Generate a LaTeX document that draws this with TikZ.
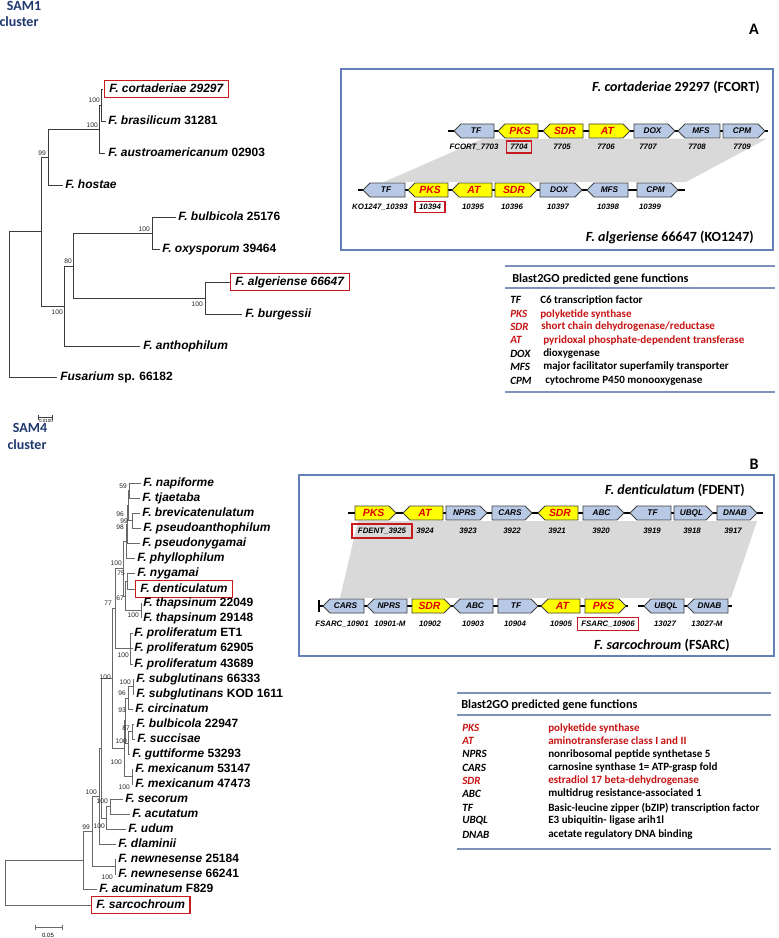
\documentclass[tikz,border=0pt]{standalone}
\usepackage{fontspec}
\setmainfont{Carlito}
\newfontfamily\arialf{Liberation Sans}
\usetikzlibrary{fit}
\definecolor{navy}{RGB}{31,56,110}
\definecolor{panelblue}{RGB}{100,128,185}
\definecolor{legline}{RGB}{125,145,185}
\definecolor{geneblue}{RGB}{184,201,230}
\definecolor{geneyel}{RGB}{255,255,0}
\definecolor{genered}{RGB}{225,0,0}
\definecolor{legred}{RGB}{200,20,20}
\definecolor{boxred}{RGB}{200,25,30}
\definecolor{shadegray}{RGB}{217,217,217}
\definecolor{treeA}{RGB}{60,60,60}
\definecolor{treeB}{RGB}{105,105,105}
\newcommand{\gR}[6]{%
 \draw[gene,fill=#4] (#1,#3-7) -- (#2-7,#3-7) -- (#2,#3) -- (#2-7,#3+7) -- (#1,#3+7) -- cycle;
 \node[#6] at ({(#1+#2)/2-2},#3) {#5};}
\newcommand{\gL}[6]{%
 \draw[gene,fill=#4] (#2,#3-7) -- (#1+7,#3-7) -- (#1,#3) -- (#1+7,#3+7) -- (#2,#3+7) -- cycle;
 \node[#6] at ({(#1+#2)/2+2},#3) {#5};}
\begin{document}
\begin{tikzpicture}[x=0.75pt,y=-0.75pt,
 gene/.style={draw=black!75, line width=0.6pt, line join=miter},
 bb/.style={draw=black, line width=1.4pt},
 gl/.style={font=\arialf\bfseries\itshape\fontsize{6.2}{7}\selectfont, inner sep=0},
 yl/.style={font=\arialf\bfseries\itshape\fontsize{7.8}{9}\selectfont, text=genered, inner sep=0},
 num/.style={font=\arialf\bfseries\itshape\fontsize{5.9}{7}\selectfont, inner sep=0, text height=4.4pt, text depth=0.3pt},
 numbox/.style={num, draw=boxred, line width=1pt, inner xsep=3pt, inner ysep=2.2pt},
 tl/.style={font=\arialf\bfseries\fontsize{9}{10}\selectfont, anchor=west, inner sep=0, text height=6.6pt, text depth=1.9pt},
 redbox/.style={draw=boxred, line width=1.1pt, inner xsep=3.5pt, inner ysep=2pt},
 bs/.style={font=\arialf\fontsize{5}{5}\selectfont, anchor=east, inner sep=0, text=black!85},
 brA/.style={draw=treeA, line width=0.65pt},
 brB/.style={draw=treeB, line width=0.7pt},
 ttl/.style={font=\bfseries\fontsize{10.5}{12}\selectfont, anchor=east, inner sep=0},
 leghead/.style={font=\bfseries\fontsize{9.2}{11}\selectfont, anchor=west, inner sep=0},
 lab/.style={font=\bfseries\itshape\fontsize{8.3}{10}\selectfont, anchor=west, inner sep=0},
 ldesc/.style={font=\bfseries\fontsize{8.3}{10}\selectfont, anchor=west, inner sep=0},
 lline/.style={draw=legline, line width=1.1pt},
 panel/.style={draw=panelblue, line width=0.9pt},
 sam/.style={font=\bfseries\fontsize{10.5}{12}\selectfont, text=navy, inner sep=0},
 letter/.style={font=\bfseries\fontsize{12}{14}\selectfont, inner sep=0}]
\fill[white] (0,0) rectangle (778,938);
\useasboundingbox (0,0) rectangle (778,938);

% ---------- headings
\node[sam] (samA) at (24,6) {SAM1};
\node[sam] (clA) at (19,22) {cluster};
\node[sam] (samB) at (30,428) {SAM4};
\node[sam] (clB) at (27,445) {cluster};
\node[letter] (letA) at (754,29) {A};
\node[letter] (letB) at (754,464) {B};

% ---------- tree A
\foreach \n/\x/\y in {cort/103/89, bras/106/121, aust/105/153, host/63/185, bulb/176/217,
  oxy/160/249, alg/231/282, burg/242/314, anth/140/346, fus/57/377,
  n1/101/105, n2/99/129, n3/48/157, n4/152/233, n5/205/298, n6/73/266, n7/64/306,
  n8/41/231, rA/9/304}
  \coordinate (\n) at (\x,\y);
\foreach \p/\c in {n1/cort, n1/bras, n2/n1, n2/aust, n3/n2, n3/host, n4/bulb, n4/oxy,
  n5/alg, n5/burg, n6/n4, n6/n5, n7/n6, n7/anth, n8/n3, n8/n7, rA/n8, rA/fus}
  \draw[brA] (\p) |- (\c);
\node[tl] (Lcort) at (109,89) {\textit{F. cortaderiae 29297}};
\node[redbox, fit=(Lcort)] (Bcort) {};
\node[tl] (Lbras) at (108,121) {\textit{F. brasilicum} 31281};
\node[tl] (Laust) at (108,153) {\textit{F. austroamericanum} 02903};
\node[tl] (Lhost) at (65,185) {\textit{F. hostae}};
\node[tl] (Lbulb) at (178,217) {\textit{F. bulbicola} 25176};
\node[tl] (Loxy) at (162,249) {\textit{F. oxysporum} 39464};
\node[tl] (Lalg) at (235,282) {\textit{F. algeriense 66647}};
\node[redbox, fit=(Lalg)] (Balg) {};
\node[tl] (Lburg) at (245,314) {\textit{F. burgessii}};
\node[tl] (Lanth) at (143,346) {\textit{F. anthophilum}};
\node[tl] (Lfus) at (60,377) {\textit{Fusarium} sp. 66182};
\foreach \t/\x/\y in {100/100/100, 100/98/125, 99/46/153, 100/150/229, 100/203/304,
  80/72/261, 100/63/312}
  \node[bs] at (\x,\y) {\t};
% scale bar A
\draw[brA] (38,414.5) -- (38,419.5) (38,417) -- (52,417) (52,414.5) -- (52,419.5);
\node[font=\arialf\fontsize{3.4}{4}\selectfont, inner sep=0] (scA) at (46,421) {0.0100};

% ---------- panel A gene clusters
\draw[panel] (341,69) rectangle (773,250);
\node[ttl] (tA1) at (760,87) {\textit{F. cortaderiae} 29297 (FCORT)};
\node[ttl] (tA2) at (754,237) {\textit{F. algeriense} 66647 (KO1247)};
\fill[shadegray] (482,139) -- (766,139) -- (686,182) -- (384,182) -- cycle;
\draw[bb] (448,131) -- (768,131);
\gL{454}{494}{131}{geneblue}{TF}{gl}
\gL{498}{538}{131}{geneyel}{PKS}{yl}
\gL{543}{583}{131}{geneyel}{SDR}{yl}
\gR{589}{630}{131}{geneyel}{AT}{yl}
\gR{634}{675}{131}{geneblue}{DOX}{gl}
\gL{678}{720}{131}{geneblue}{MFS}{gl}
\gR{723}{765}{131}{geneblue}{CPM}{gl}
\node[num] at (474,147) {FCORT\_7703};
\node[numbox] at (519,147) {7704};
\node[num] at (562,147) {7705};
\node[num] at (606,147) {7706};
\node[num] at (648,147) {7707};
\node[num] at (697,147) {7708};
\node[num] at (742,147) {7709};
\draw[bb] (358,190) -- (685,190);
\gL{363}{405}{190}{geneblue}{TF}{gl}
\gL{408}{448}{190}{geneyel}{PKS}{yl}
\gL{452}{492}{190}{geneyel}{AT}{yl}
\gR{495}{537}{190}{geneyel}{SDR}{yl}
\gR{540}{582}{190}{geneblue}{DOX}{gl}
\gL{587}{628}{190}{geneblue}{MFS}{gl}
\gR{637}{678}{190}{geneblue}{CPM}{gl}
\node[num] at (380,207) {KO1247\_10393};
\node[numbox, inner ysep=1.6pt] at (430,207) {10394};
\node[num] at (473,207) {10395};
\node[num] at (512,207) {10396};
\node[num] at (558,207) {10397};
\node[num] at (608,207) {10398};
\node[num] at (650,207) {10399};

% ---------- legend A
\draw[lline] (505,266) -- (775,266);
\draw[lline] (505,288) -- (775,288);
\draw[lline] (505,392) -- (775,392);
\node[leghead] at (512,279) {Blast2GO predicted gene functions};
\node[lab] at (510,300) {TF};   \node[ldesc] at (540,300) {C6 transcription factor};
\node[lab, text=legred] at (510,314) {PKS}; \node[ldesc, text=legred] at (540,314) {polyketide synthase};
\node[lab, text=legred] at (510,327) {SDR}; \node[ldesc, text=legred] at (541,327) {short chain dehydrogenase/reductase};
\node[lab, text=legred] at (510,340) {AT}; \node[ldesc, text=legred] at (543,340) {pyridoxal phosphate-dependent transferase};
\node[lab] at (510,354) {DOX}; \node[ldesc] at (543,354) {dioxygenase};
\node[lab] at (510,367) {MFS}; \node[ldesc] at (543,367) {major facilitator superfamily transporter};
\node[lab] at (510,381) {CPM}; \node[ldesc] at (545,381) {cytochrome P450 monooxygenase};

% ---------- tree B
\foreach \n/\x/\y in {t1/141/483, t2/140/498, t3/140/513, t4/141/528, t5/140/543, t6/135/558,
  t7/135/573, t8/136/589, t9/141/603, t10/141/618, t11/132.5/633, t12/132.5/648, t13/132.5/664,
  t14/134/679, t15/134/694, t16/133/709, t17/134/724, t18/135/739, t19/130/754, t20/133/769,
  t21/133/784, t22/123/799, t23/130/814, t24/126/829, t25/116/844, t26/116/859, t27/116/874,
  t28/97/889, t29/92/905,
  a1/129/490.5, a2/132/520.5, a3/128/505.5, a4/127/524, a5/126/541, a6/127/581, a7/141/610.5,
  a8/125/596, a9/123/568.5, a10/130/648.5, c0/115/608.5, b1/133/686.5, b4/128/698, b2/132/731.5,
  b3/128/743, b5/125/720, b6/132/776.5, b7/124/748, c1/112/678, d1/110/806.5, d2/106/818,
  Ne/101/748, Nc/99/796, Nnew/115/866.5, Nb/92/831, Na/83/860, rB/5/882.5}
  \coordinate (\n) at (\x,\y);
\foreach \p/\c in {a1/t1, a1/t2, a2/t3, a2/t4, a3/a1, a3/a2, a4/a3, a4/t5, a5/a4, a5/t6,
  a6/t7, a6/t8, a7/t9, a7/t10, a8/a6, a8/a7, a9/a5, a9/a8, a10/t11, a10/t12, a10/t13,
  c0/a9, c0/a10, b1/t14, b1/t15, b4/b1, b4/t16, b2/t17, b2/t18, b3/b2, b3/t19, b5/b4, b5/b3,
  b6/t20, b6/t21, b7/b5, b7/b6, c1/c0, c1/b7, d1/t22, d1/t23, d2/d1, d2/t24, Ne/c1, Ne/d2,
  Nc/Ne, Nc/t25, Nnew/t26, Nnew/t27, Nb/Nc, Nb/Nnew, Na/Nb, Na/t28, rB/Na, rB/t29}
  \draw[brB] (\p) |- (\c);
\node[tl] at (143,483) {\textit{F. napiforme}};
\node[tl] at (142,498) {\textit{F. tjaetaba}};
\node[tl] at (142,513) {\textit{F. brevicatenulatum}};
\node[tl] at (143,528) {\textit{F. pseudoanthophilum}};
\node[tl] at (142,543) {\textit{F. pseudonygamai}};
\node[tl] at (137,558) {\textit{F. phyllophilum}};
\node[tl] at (137,573) {\textit{F. nygamai}};
\node[tl] (Ldent) at (140,589) {\textit{F. denticulatum}};
\node[redbox, fit=(Ldent)] (Bdent) {};
\node[tl] at (143,603) {\textit{F. thapsinum} 22049};
\node[tl] at (143,618) {\textit{F. thapsinum} 29148};
\node[tl] at (134,633) {\textit{F. proliferatum} ET1};
\node[tl] at (134,648) {\textit{F. proliferatum} 62905};
\node[tl] at (134,664) {\textit{F. proliferatum} 43689};
\node[tl] at (136,679) {\textit{F. subglutinans} 66333};
\node[tl] at (136,694) {\textit{F. subglutinans} KOD 1611};
\node[tl] at (135,709) {\textit{F. circinatum}};
\node[tl] at (136,724) {\textit{F. bulbicola} 22947};
\node[tl] at (137,739) {\textit{F. succisae}};
\node[tl] at (132,754) {\textit{F. guttiforme} 53293};
\node[tl] at (135,769) {\textit{F. mexicanum} 53147};
\node[tl] at (135,784) {\textit{F. mexicanum} 47473};
\node[tl] at (125,799) {\textit{F. secorum}};
\node[tl] at (132,814) {\textit{F. acutatum}};
\node[tl] at (128,829) {\textit{F. udum}};
\node[tl] at (118,844) {\textit{F. dlaminii}};
\node[tl] at (118,859) {\textit{F. newnesense} 25184};
\node[tl] at (118,874) {\textit{F. newnesense} 66241};
\node[tl] at (99,889) {\textit{F. acuminatum} F829};
\node[tl] (Lsarc) at (96,905) {\textit{F. sarcochroum}};
\node[redbox, fit=(Lsarc)] (Bsarc) {};
\foreach \t/\x/\y in {59/127/486, 96/124/514, 99/128/521, 98/124/527, 100/122/563, 75/125/573,
  67/124/598, 77/112/603, 100/139/615, 100/129/655, 100/131/682, 96/126/693, 93/126/710,
  87/130/728, 100/127/741, 100/122/762, 100/130/787, 100/111/677, 100/108/801, 100/105/826,
  100/97/792, 99/90/827, 100/113/877}
  \node[bs] at (\x,\y) {\t};
% scale bar B
\draw[brB] (35,924.5) -- (35,929.5) (35,927) -- (62,927) (62,924.5) -- (62,929.5);
\node[font=\arialf\fontsize{4.5}{5}\selectfont, inner sep=0] (scB) at (48,935) {0.05};

% ---------- panel B gene clusters
\draw[panel] (299,475) rectangle (774,656);
\node[ttl] (tB1) at (745,490) {\textit{F. denticulatum} (FDENT)};
\node[ttl] (tB2) at (730,645) {\textit{F. sarcochroum} (FSARC)};
\fill[shadegray] (358,521) -- (757,521) -- (731,598) -- (340,598) -- cycle;
\draw[bb] (348,513) -- (763,513);
\gR{355}{396}{513}{geneyel}{PKS}{yl}
\gL{403}{443}{513}{geneyel}{AT}{yl}
\gR{446}{487}{513}{geneblue}{NPRS}{gl}
\gR{492}{532}{513}{geneblue}{CARS}{gl}
\gL{538}{578}{513}{geneyel}{SDR}{yl}
\gR{583}{624}{513}{geneblue}{ABC}{gl}
\gL{630}{671}{513}{geneblue}{TF}{gl}
\gR{674}{713}{513}{geneblue}{UBQL}{gl}
\gR{717}{757}{513}{geneblue}{DNAB}{gl}
\node[numbox, inner xsep=4.5pt, inner ysep=3pt] at (382,531) {FDENT\_3925};
\node[num] at (425,531) {3924};
\node[num] at (468,531) {3923};
\node[num] at (512,531) {3922};
\node[num] at (557,531) {3921};
\node[num] at (601,531) {3920};
\node[num] at (652,531) {3919};
\node[num] at (692,531) {3918};
\node[num] at (733,531) {3917};
\draw[bb] (318,606) -- (628,606);
\draw[bb] (638,606) -- (732,606);
\draw[draw=black, line width=2.2pt] (319,600) -- (319,612);
\gL{323}{364}{606}{geneblue}{CARS}{gl}
\gL{367}{407}{606}{geneblue}{NPRS}{gl}
\gR{412}{451}{606}{geneyel}{SDR}{yl}
\gL{453}{493}{606}{geneblue}{ABC}{gl}
\gR{498}{538}{606}{geneblue}{TF}{gl}
\gL{541}{580}{606}{geneyel}{AT}{yl}
\gR{585}{626}{606}{geneyel}{PKS}{yl}
\gL{644}{684}{606}{geneblue}{UBQL}{gl}
\gL{687}{728}{606}{geneblue}{DNAB}{gl}
\node[num] at (342,624) {FSARC\_10901};
\node[num] at (390,624) {10901-M};
\node[num] at (430,624) {10902};
\node[num] at (473,624) {10903};
\node[num] at (515,624) {10904};
\node[num] at (561,624) {10905};
\node[numbox, inner xsep=3pt, inner ysep=2.6pt] at (608,624) {FSARC\_10906};
\node[num] at (665,624) {13027};
\node[num] at (707,624) {13027-M};

% ---------- legend B
\draw[lline] (457,693) -- (771,693);
\draw[lline] (457,715) -- (771,715);
\draw[lline] (457,849) -- (771,849);
\node[leghead] at (461,705) {Blast2GO predicted gene functions};
\node[lab, text=legred] at (462,728) {PKS}; \node[ldesc, text=legred] at (548,728) {polyketide synthase};
\node[lab, text=legred] at (462,741) {AT}; \node[ldesc, text=legred] at (548,741) {aminotransferase class I and II};
\node[lab] at (462,754) {NPRS}; \node[ldesc] at (548,754) {nonribosomal peptide synthetase 5};
\node[lab] at (462,768) {CARS}; \node[ldesc] at (548,768) {carnosine synthase 1= ATP-grasp fold};
\node[lab, text=legred] at (462,781) {SDR}; \node[ldesc, text=legred] at (548,781) {estradiol 17 beta-dehydrogenase};
\node[lab] at (462,794) {ABC}; \node[ldesc] at (548,794) {multidrug resistance-associated 1};
\node[lab] at (462,808) {TF}; \node[ldesc] at (548,808) {Basic-leucine zipper (bZIP) transcription factor};
\node[lab] at (462,821) {UBQL}; \node[ldesc] at (548,821) {E3 ubiquitin- ligase arih1l};
\node[lab] at (462,835) {DNAB}; \node[ldesc] at (548,835) {acetate regulatory DNA binding};
\end{tikzpicture}
\end{document}
